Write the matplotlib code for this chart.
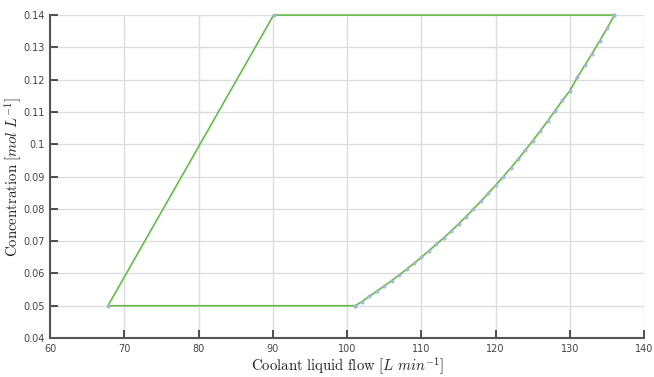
import matplotlib
matplotlib.use("Agg")
import matplotlib.pyplot as plt
from matplotlib.ticker import FormatStrFormatter

plt.rcParams['mathtext.fontset'] = 'cm'

# Polygon outline: bottom-right start -> bottom-left -> top-left -> top-right
corner_x = [101.1, 67.8, 90.1, 136.0]
corner_y = [0.05, 0.05, 0.14, 0.14]

# Curved edge from top-right back down to start
curve_x = [136.0, 135, 134, 133, 132, 131, 130, 129, 128, 127, 126, 125, 124,
           123, 122, 121, 120, 119, 118, 117, 116, 115, 114, 113, 112, 111,
           110, 109, 108, 107, 106, 105, 104, 103, 102, 101.1]
curve_y = [0.1400, 0.1359, 0.1320, 0.1281, 0.1244, 0.1207, 0.1166, 0.1136,
           0.1104, 0.1072, 0.1041, 0.1011, 0.0982, 0.0953, 0.0926, 0.0899,
           0.0873, 0.0848, 0.0823, 0.0799, 0.0776, 0.0753, 0.0731, 0.0710,
           0.0690, 0.0670, 0.0650, 0.0631, 0.0613, 0.0595, 0.0578, 0.0561,
           0.0545, 0.0529, 0.0513, 0.0500]

x_ticks = [60, 70, 80, 90, 100, 110, 120, 130, 140]
y_ticks = [0.04, 0.05, 0.06, 0.07, 0.08, 0.09, 0.10, 0.11, 0.12, 0.13, 0.14]

xs = corner_x + curve_x
ys = corner_y + curve_y

fig = plt.figure(figsize=(6.54, 3.77), dpi=100)
ax = fig.add_axes([0.0765, 0.1034, 0.9085, 0.8566])

ax.plot(xs, ys, color='#66bb48', lw=1.2, marker='o', markersize=2.4,
        markerfacecolor='#a9bcd6', markeredgecolor='#9fb2cc', markeredgewidth=0.4,
        zorder=3, clip_on=False)

ax.set_xlim(60, 140)
ax.set_ylim(0.04, 0.14)
ax.set_xticks(x_ticks)
ax.set_yticks(y_ticks)
ax.yaxis.set_major_formatter(FormatStrFormatter('%g'))
ax.grid(True, color='#dddddd', lw=1.0, zorder=0)
ax.set_axisbelow(True)

for s in ['top', 'right']:
    ax.spines[s].set_visible(False)
for s in ['left', 'bottom']:
    ax.spines[s].set_color('#555555')
    ax.spines[s].set_linewidth(1.5)

ax.tick_params(axis='both', direction='in', length=6, width=1.2,
               color='#333333', labelsize=7, labelcolor='#444444',
               top=False, right=False, pad=4)

ax.set_xlabel(r'$\mathrm{Coolant\ liquid\ flow}\ [L\ min^{-1}]$', fontsize=10.7,
              labelpad=1, color='#222222')
ax.set_ylabel(r'$\mathrm{Concentration}\ [mol\ L^{-1}]$', fontsize=10.7,
              color='#222222')
ax.yaxis.set_label_coords(-0.044, 0.5)

fig.savefig('out.png', dpi=100)
